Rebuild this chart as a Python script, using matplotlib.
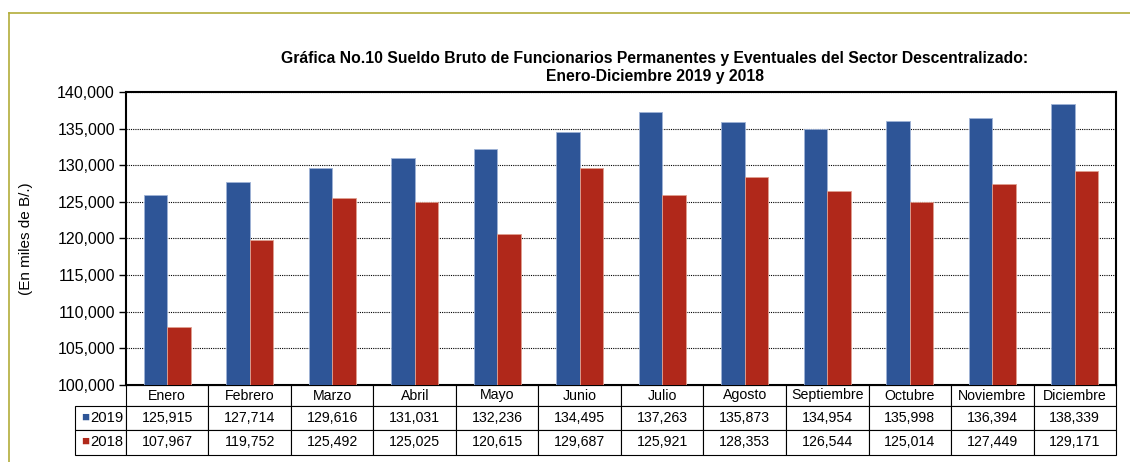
import numpy as np
import matplotlib.pyplot as plt
from matplotlib.lines import Line2D
from matplotlib.table import Table

plt.rcParams['font.family'] = ['Liberation Sans', 'DejaVu Sans']

meses = ["Enero", "Febrero", "Marzo", "Abril", "Mayo", "Junio", "Julio",
         "Agosto", "Septiembre", "Octubre", "Noviembre", "Diciembre"]
v2019 = [125915, 127714, 129616, 131031, 132236, 134495, 137263,
         135873, 134954, 135998, 136394, 138339]
v2018 = [107967, 119752, 125492, 125025, 120615, 129687, 125921,
         128353, 126544, 125014, 127449, 129171]
series = ["2019", "2018"]
yticks = np.arange(100000, 140001, 5000)

c2019 = "#2e5597"
c2018 = "#b0281a"

fig = plt.figure(figsize=(11.3, 4.62), dpi=100)
W, H = 1130, 462
ax = fig.add_axes([126 / W, 1 - 385 / H, (1116 - 126) / W, (385 - 92) / H])

x = np.arange(len(meses))
bw = 0.285
ax.bar(x - bw / 2, v2019, bw, color=c2019, edgecolor="#9fb3d6", linewidth=0.6, zorder=3)
ax.bar(x + bw / 2, v2018, bw, color=c2018, edgecolor="#e0a090", linewidth=0.6, zorder=3)

ax.set_xlim(-0.5, len(meses) - 0.5)
ax.set_ylim(yticks[0], yticks[-1])
ax.set_yticks(yticks)
ax.set_yticklabels([f"{t:,}" for t in yticks], fontsize=11.5)
ax.set_xticks([])
ax.tick_params(axis="y", length=5, width=1, direction="out", pad=3)
ax.yaxis.grid(True, color="black", linestyle=(0, (1, 1)), linewidth=0.8, zorder=0)
for s in ax.spines.values():
    s.set_linewidth(1.5)
ax.set_ylabel("(En miles de B/.)", fontsize=11)
ax.yaxis.set_label_coords(-93 / 990, 0.5)

# data table under the plot (bbox covers only the data cells)
rw = 51 / 990
cw = 1 / 12
heights = [21 / 293, 24 / 293, 25 / 293]
tab = Table(ax, bbox=[0, -70 / 293, 1, 70 / 293])
for j, m in enumerate(meses):
    tab.add_cell(0, j, cw, heights[0], text=m, loc="center")
rows = [v2019, v2018]
for i, vals in enumerate(rows):
    tab.add_cell(i + 1, -1, rw, heights[i + 1], text="")
    for j, v in enumerate(vals):
        tab.add_cell(i + 1, j, cw, heights[i + 1], text=f"{v:,}", loc="center")
tab.auto_set_font_size(False)
tab.set_fontsize(10.2)
for (r, c), cell in tab.get_celld().items():
    cell.set_linewidth(0.8)
    cell.set_edgecolor("black")
ax.add_table(tab)

# row labels with legend keys
for name, col, yp in zip(series, [c2019, c2018], [418, 442]):
    fig.text(81 / W, 1 - yp / H, "■", color=col, fontsize=9.5, va="center", ha="left")
    fig.text(90 / W, 1 - yp / H, name, fontsize=10.6, va="center", ha="left")

fig.text(655 / W, 1 - 59 / H,
         "Gráfica No.10 Sueldo Bruto de Funcionarios Permanentes y Eventuales del Sector Descentralizado:",
         ha="center", va="center", fontsize=11.3, fontweight="bold")
fig.text(655 / W, 1 - 77 / H, "Enero-Diciembre 2019 y 2018",
         ha="center", va="center", fontsize=11.3, fontweight="bold")

# outer frame
frame_c = "#b3ad3a"
fig.add_artist(Line2D([9 / W, 1], [1 - 13 / H, 1 - 13 / H], color=frame_c, lw=1.2))
fig.add_artist(Line2D([9 / W, 9 / W], [0, 1 - 13 / H], color=frame_c, lw=1.2))

fig.savefig("out.png", dpi=100)
